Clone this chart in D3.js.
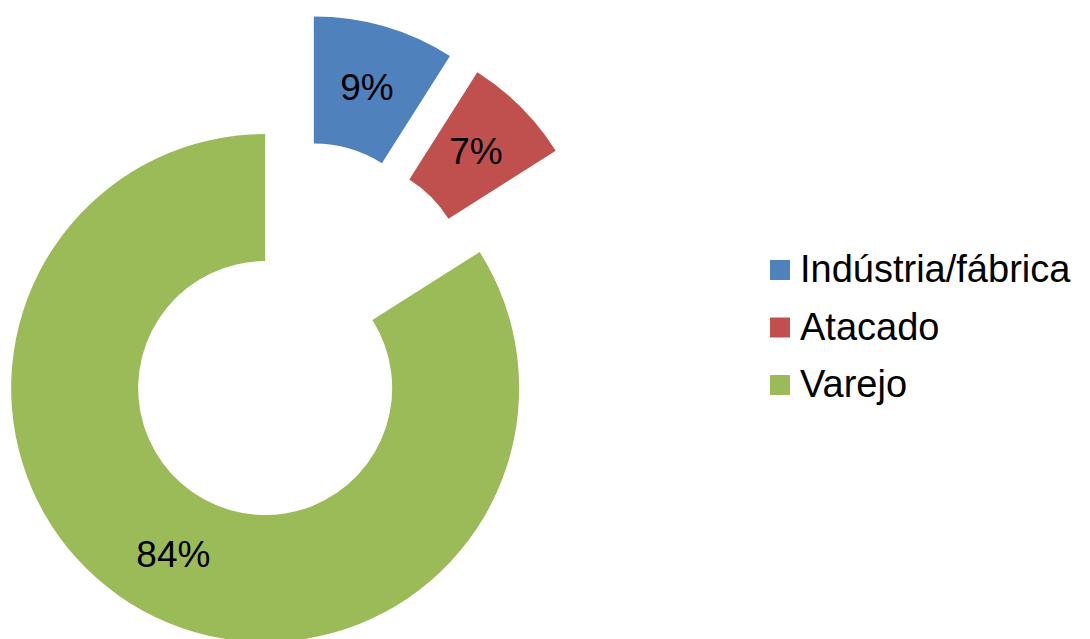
<!DOCTYPE html>
<meta charset="utf-8">
<style>
  body { margin: 0; background: #fff; }
  text { font-family: "Liberation Sans", Arial, sans-serif; fill: #000; }
</style>
<body>
<svg width="1090" height="639"></svg>
<script src="https://cdn.jsdelivr.net/npm/d3@7"></script>
<script>

    var categories = ["Indústria/fábrica", "Atacado", "Varejo"];
    var values = [9, 7, 84];
    var valueLabels = ["9%", "7%", "84%"];
    var colors = ["#4F81BD", "#C0504D", "#9BBB59"];

    var svg = d3.select("svg");

    // donut geometry (exploded, like the Excel original)
    var cx = 296, cy = 332,
        outerR = 254, innerR = 127,
        explode = 64;

    var pie = d3.pie()
        .sort(null)
        .value(function (d) { return d; });

    var arc = d3.arc()
        .innerRadius(innerR)
        .outerRadius(outerR);

    var arcs = pie(values);

    function offset(d) {
        var mid = (d.startAngle + d.endAngle) / 2;
        return [explode * Math.sin(mid), -explode * Math.cos(mid)];
    }

    var g = svg.append("g")
        .attr("transform", "translate(" + cx + "," + cy + ")");

    var slice = g.selectAll(".slice")
        .data(arcs)
        .enter().append("g")
        .attr("class", "slice")
        .attr("transform", function (d) {
            var o = offset(d);
            return "translate(" + o[0] + "," + o[1] + ")";
        });

    slice.append("path")
        .attr("d", arc)
        .attr("fill", function (d, i) { return colors[i]; });

    slice.append("text")
        .attr("transform", function (d) {
            return "translate(" + arc.centroid(d) + ")";
        })
        .attr("text-anchor", "middle")
        .attr("dy", "0.33em")
        .style("font-size", "37px")
        .text(function (d, i) { return valueLabels[i]; });

    // legend
    var legend = svg.append("g")
        .attr("transform", "translate(770,260)");

    var item = legend.selectAll(".item")
        .data(categories)
        .enter().append("g")
        .attr("class", "item")
        .attr("transform", function (d, i) { return "translate(0," + (i * 57.5) + ")"; });

    item.append("rect")
        .attr("width", 20)
        .attr("height", 20)
        .attr("fill", function (d, i) { return colors[i]; });

    item.append("text")
        .attr("x", 30)
        .attr("y", 22)
        .style("font-size", "38px")
        .text(function (d) { return d; });

</script>
</body>
